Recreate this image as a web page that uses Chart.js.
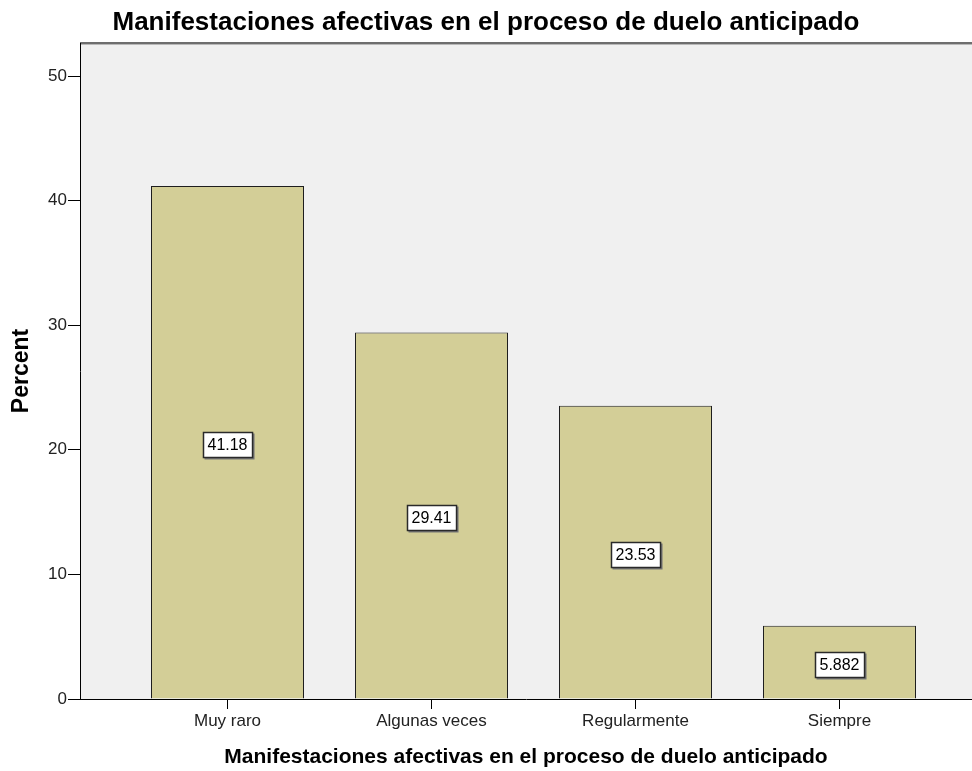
<!DOCTYPE html>
<html><head><meta charset="utf-8">
<script src="https://cdn.jsdelivr.net/npm/chart.js@4"></script>
<style>html,body{margin:0;padding:0;background:#fff}#wrap{width:972px;height:771px}</style>
</head>
<body><div id="wrap"><canvas id="c" width="972" height="771"></canvas></div>
<script>
const categories = ['Muy raro', 'Algunas veces', 'Regularmente', 'Siempre'];
const percents = [41.18, 29.41, 23.53, 5.882];
const valueLabels = ['41.18', '29.41', '23.53', '5.882'];
const yTicks = [0, 10, 20, 30, 40, 50];
const chartTitle = 'Manifestaciones afectivas en el proceso de duelo anticipado';
const xTitle = 'Manifestaciones afectivas en el proceso de duelo anticipado';
const yTitle = 'Percent';

const FONT = "Arial, 'Liberation Sans', sans-serif";

const bgPlugin = {
  id: 'bg',
  beforeDraw(chart) {
    const {ctx, chartArea: a} = chart;
    ctx.save();
    ctx.fillStyle = '#f0f0f0';
    ctx.fillRect(a.left, a.top, a.right - a.left, a.bottom - a.top);
    ctx.strokeStyle = '#6e6e6e';
    ctx.lineWidth = 2;
    ctx.beginPath();
    ctx.moveTo(a.left, a.top);
    ctx.lineTo(a.right, a.top);
    ctx.stroke();
    ctx.strokeStyle = '#b8b8b8';
    ctx.lineWidth = 1;
    ctx.beginPath();
    ctx.moveTo(a.left, a.top + 1.5);
    ctx.lineTo(a.right, a.top + 1.5);
    ctx.stroke();
    ctx.restore();
  }
};

const labelPlugin = {
  id: 'vlabels',
  afterDatasetsDraw(chart) {
    const {ctx} = chart;
    const meta = chart.getDatasetMeta(0);
    ctx.save();
    ctx.font = '16px ' + FONT;
    ctx.textAlign = 'center';
    ctx.textBaseline = 'middle';
    meta.data.forEach((el, i) => {
      const txt = valueLabels[i];
      const cx = el.x;
      const cy = (el.y + el.base) / 2 + 2;
      const w = ctx.measureText(txt).width + 9;
      const h = 25;
      const x0 = Math.round(cx - w / 2) + 0.5;
      const y0 = Math.round(cy - h / 2) + 0.5;
      ctx.fillStyle = '#777';
      ctx.fillRect(x0 + 1, y0 + 1, w + 1, h + 1);
      ctx.fillStyle = '#fff';
      ctx.fillRect(x0, y0, w, h);
      ctx.strokeStyle = '#2a2a2a';
      ctx.lineWidth = 1.5;
      ctx.strokeRect(x0, y0, w, h);
      ctx.fillStyle = '#000';
      ctx.fillText(txt, cx, cy + 1);
    });
    ctx.restore();
  }
};

new Chart(document.getElementById('c'), {
  type: 'bar',
  data: {
    datasets: [{
      data: percents.map((v, i) => ({x: i, y: v})),
      backgroundColor: '#d3ce97',
      borderColor: '#1e1e1e',
      borderWidth: 1,
      categoryPercentage: 0.75,
      barPercentage: 1
    }]
  },
  options: {
    responsive: false,
    devicePixelRatio: 1,
    animation: false,
    layout: {padding: {left: 0, right: 0, top: 0, bottom: 0}},
    plugins: {
      legend: {display: false},
      tooltip: {enabled: false},
      title: {
        display: true,
        text: chartTitle,
        color: '#000',
        font: {family: FONT, size: 26, weight: 'bold'},
        padding: {top: 7, bottom: 4.8}
      }
    },
    scales: {
      x: {
        type: 'linear',
        offset: false,
        min: -0.72304,
        max: 3.64951,
        afterBuildTicks(s) { s.ticks = categories.map((c, i) => ({value: i})); },
        afterFit(s) { s.height = 72; },
        ticks: {
          color: '#222',
          font: {family: FONT, size: 17},
          padding: 2,
          maxRotation: 0,
          autoSkip: false,
          callback: (v) => categories[Math.round(v)] ?? ''
        },
        grid: {display: true, offset: false, drawOnChartArea: false, drawTicks: true, tickLength: 10, color: '#000'},
        border: {display: true, color: '#000', width: 1},
        title: {
          display: true,
          text: xTitle,
          color: '#000',
          font: {family: FONT, size: 21, weight: 'bold'},
          padding: {top: 0, bottom: 1}
        }
      },
      y: {
        min: 0,
        max: 52.65,
        afterBuildTicks(s) { s.ticks = yTicks.map(v => ({value: v})); },
        afterFit(s) { s.width = 80; },
        ticks: {color: '#222', font: {family: FONT, size: 17}, padding: 1},
        grid: {display: true, drawOnChartArea: false, drawTicks: true, tickLength: 12, color: '#000'},
        border: {display: true, color: '#000', width: 1},
        title: {
          display: true,
          text: yTitle,
          color: '#000',
          font: {family: FONT, size: 23, weight: 'bold'},
          padding: {top: 8, bottom: 0}
        }
      }
    }
  },
  plugins: [bgPlugin, labelPlugin]
});
</script>
</body></html>
